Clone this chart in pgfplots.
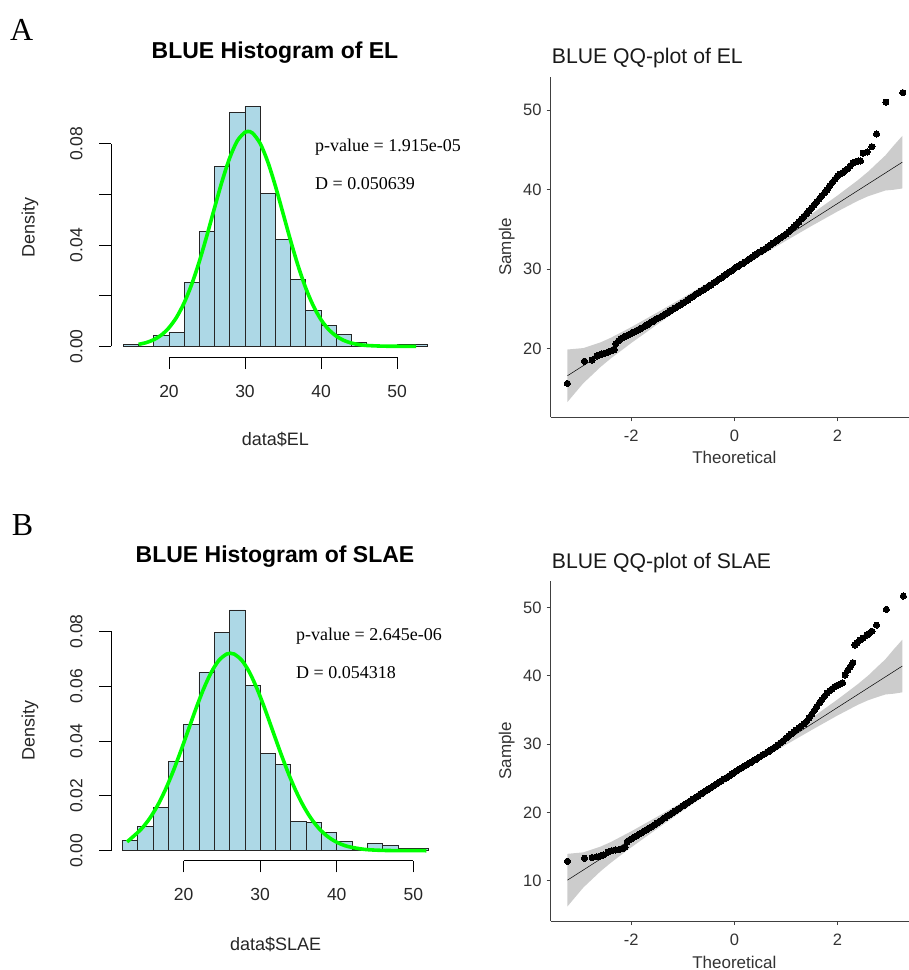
\documentclass[border=0pt]{standalone}
\usepackage{fontspec}
\setmainfont{Liberation Sans}
\newfontfamily\timesf{Liberation Serif}
\usepackage{pgfplots}
\pgfplotsset{compat=1.18}
\definecolor{lblue}{RGB}{173,216,230}
\definecolor{rgreen}{RGB}{0,255,0}
\definecolor{bandgray}{RGB}{204,204,204}

\pgfplotsset{
  histax/.style={scale only axis, anchor=south west, clip=false,
    axis x line*=bottom, axis y line*=left, axis line style={draw=none},
    scaled ticks=false,
    tick align=outside, major tick length=11.7pt,
    tick style={black, line width=0.8pt},
    minor tick num=0,
    xtick={20,30,40,50}, xticklabels={20,30,40,50},
    ytick={0,0.02,0.04,0.06,0.08},
    ticklabel style={font=\fontsize{17.5}{19}\selectfont, text=black!85, inner sep=0pt},
    xticklabel style={anchor=center, yshift=-22.3pt},
    yticklabel style={anchor=center, xshift=-23pt, rotate=90},
  },
  qqax/.style={scale only axis, anchor=south west,
    axis x line*=bottom, axis y line*=left,
    axis line style={black!75, line width=1pt},
    tick style={black!75, line width=0.8pt},
    tick align=outside, major tick length=4pt,
    xmin=-3.565, xmax=3.39,
    xtick={-2,0,2}, xticklabels={-2,0,2},
    ticklabel style={font=\fontsize{16.5}{18}\selectfont, text=black!80, inner sep=0pt},
    xticklabel style={anchor=center, yshift=-14.4pt},
    yticklabel style={anchor=east, xshift=-5pt},
  },
  qqpts/.style={only marks, mark=*, mark size=3.1pt, mark options={fill=black, draw=black, line width=0pt}},
}

\begin{document}
\begin{tikzpicture}
\path[use as bounding box] (0pt,0pt) rectangle (909pt,-970pt);

% ---------------- Panel A histogram ----------------
\begin{axis}[histax, at={(111pt,-357.3pt)}, width=328.8pt, height=260.4pt,
  xmin=12.37, xmax=55.63, ymin=-0.00434, ymax=0.0985,
  yticklabels={0.00,,0.04,,0.08}]
\addplot[ybar interval, fill=lblue, draw=black!85, line width=0.8pt] table {
x y
14 0.0009
16 0
18 0.0043
20 0.0056
22 0.0253
24 0.0455
26 0.0709
28 0.0924
30 0.0947
32 0.0603
34 0.0422
36 0.0263
38 0.0142
40 0.0082
42 0.0046
44 0.0016
46 0.0005
48 0
50 0.0008
52 0.0008
54 0.0008
};
\addplot[rgreen, line width=3.6pt, smooth] table {
x y
16 0.00078
17 0.00146
18 0.00262
19 0.00447
20 0.00734
21 0.01149
22 0.01719
23 0.02459
24 0.03359
25 0.04387
26 0.05477
27 0.06534
28 0.07451
29 0.0812
30 0.08457
30.4 0.08488
31 0.08419
32 0.0801
33 0.07284
34 0.0633
35 0.05257
36 0.04174
37 0.03167
38 0.02296
39 0.01591
40 0.01053
41 0.00667
42 0.00404
43 0.00233
44 0.00129
45 0.00068
46 0.00034
48 0.00008
50 0.00001
52.5 0
};
\draw[black, line width=0.8pt] (axis cs:20,-0.00434) -- (axis cs:50,-0.00434);
\draw[black, line width=0.8pt] (axis cs:12.37,0) -- (axis cs:12.37,0.08);
\end{axis}

% ---------------- Panel B histogram ----------------
\begin{axis}[histax, at={(111pt,-860.7pt)}, width=329.8pt, height=260.4pt,
  xmin=10.5, xmax=53.6, ymin=-0.00365, ymax=0.0913,
  yticklabels={0.00,0.02,0.04,0.06,0.08}]
\addplot[ybar interval, fill=lblue, draw=black!85, line width=0.8pt] table {
x y
12 0.0036
14 0.0090
16 0.0159
18 0.0327
20 0.0461
22 0.0650
24 0.0796
26 0.0878
28 0.0602
30 0.0354
32 0.0315
34 0.0106
36 0.0102
38 0.0067
40 0.0035
42 0.0005
44 0.0027
46 0.0018
48 0.0009
50 0.0009
52 0.0009
};
\addplot[rgreen, line width=3.6pt, smooth] table {
x y
12.6 0.00323
13.6 0.00565
14.6 0.00835
15.6 0.01195
16.6 0.01655
17.6 0.02219
18.6 0.02879
19.6 0.03618
20.6 0.04398
21.6 0.05178
22.6 0.05897
23.6 0.06503
24.6 0.06941
25.6 0.0717
26.1 0.0720
26.6 0.0717
27.6 0.06941
28.6 0.06503
29.6 0.05897
30.6 0.05178
31.6 0.04398
32.6 0.03618
33.6 0.02879
34.6 0.02219
35.6 0.01655
36.6 0.01195
37.6 0.00835
38.6 0.00565
39.6 0.0037
40.6 0.00234
41.6 0.00144
43.6 0.00049
45.6 0.00015
47.6 0.00004
51.7 0
};
\draw[black, line width=0.8pt] (axis cs:20,-0.00365) -- (axis cs:50,-0.00365);
\draw[black, line width=0.8pt] (axis cs:10.5,0) -- (axis cs:10.5,0.08);
\end{axis}

% ---------------- Panel A QQ ----------------
\begin{axis}[qqax, at={(550.7pt,-417.3pt)}, width=358.3pt, height=340.6pt,
  ymin=11.4, ymax=54.2, ytick={20,30,40,50}, yticklabels={20,30,40,50}]
\addplot[fill=bandgray, draw=none] coordinates {
(-3.24,19.92) (-3.10,20.0) (-2.93,20.1) (-2.75,20.49) (-2.60,20.81) (-2.40,21.39)
(-2.20,22.06) (-2.00,22.74) (-1.50,24.56) (-1.00,26.42) (-0.50,28.36) (0,30.38)
(0.5,32.49) (1.0,34.68) (1.5,36.95) (2.0,39.26) (2.2,40.24) (2.4,41.21) (2.6,42.29)
(2.75,43.21) (2.93,44.30) (3.10,45.60) (3.26,46.76)
(3.26,40.16) (3.10,40.0) (2.93,39.90) (2.75,39.51) (2.6,39.19) (2.4,38.61) (2.2,37.94)
(2.0,37.26) (1.5,35.45) (1.0,33.58) (0.5,31.65) (0,29.62) (-0.50,27.52) (-1.00,25.32)
(-1.50,23.06) (-2.00,20.74) (-2.20,19.76) (-2.40,18.79) (-2.60,17.71) (-2.75,16.79)
(-2.93,15.7) (-3.10,14.4) (-3.24,13.32)
} -- cycle;
\addplot[black, line width=0.5pt] coordinates {(-3.24,16.62) (3.26,43.46)};
\addplot[qqpts] table {
x y
-3.24 15.65
-2.91 18.45
-2.76 18.6
-2.67 19.1
-2.62 19.25
-2.57 19.35
-2.52 19.45
-2.47 19.55
-2.42 19.7
-2.37 19.8
-2.33 19.9
-2.30 20.65
-2.25 21.0
-2.20 21.3
-2.15 21.45
-2.10 21.6
-2.05 21.8
-2.00 21.95
-1.95 22.1
-1.90 22.3
-1.85 22.45
-1.80 22.6
-1.75 22.8
-1.70 23.0
-1.65 23.2
-1.60 23.4
-1.55 23.6
-1.50 23.8
-1.45 23.95
-1.40 24.15
-1.35 24.35
-1.30 24.55
-1.25 24.75
-1.20 24.95
-1.15 25.15
-1.10 25.35
-1.05 25.55
-1.00 25.75
-0.95 25.95
-0.90 26.15
-0.85 26.4
-0.80 26.6
-0.75 26.85
-0.70 27.05
-0.65 27.25
-0.60 27.45
-0.55 27.65
-0.50 27.85
-0.45 28.05
-0.40 28.3
-0.35 28.5
-0.30 28.75
-0.25 28.95
-0.20 29.2
-0.15 29.4
-0.10 29.65
-0.05 29.85
0.00 30.1
0.05 30.3
0.10 30.5
0.15 30.7
0.20 30.9
0.25 31.1
0.30 31.35
0.35 31.55
0.40 31.8
0.45 32.0
0.50 32.2
0.55 32.4
0.60 32.6
0.65 32.8
0.70 33.05
0.75 33.3
0.80 33.5
0.85 33.75
0.90 33.95
0.95 34.2
1.00 34.4
1.05 34.7
1.10 35.0
1.15 35.3
1.20 35.6
1.25 35.95
1.30 36.3
1.35 36.65
1.40 37.0
1.45 37.35
1.50 37.75
1.55 38.1
1.60 38.5
1.65 38.85
1.70 39.25
1.75 39.6
1.80 40.0
1.85 40.5
1.90 40.9
1.95 41.3
2.00 41.7
2.05 41.95
2.10 42.15
2.15 42.4
2.20 42.6
2.25 43.0
2.30 43.35
2.35 43.5
2.40 43.6
2.45 43.6
2.50 44.6
2.58 44.75
2.67 45.4
2.76 47.0
2.94 51.0
3.27 52.2
};
\end{axis}

% ---------------- Panel B QQ ----------------
\begin{axis}[qqax, at={(550.7pt,-921pt)}, width=358.3pt, height=340.3pt,
  ymin=4.1, ymax=53.9, ytick={10,20,30,40,50}, yticklabels={10,20,30,40,50}]
\addplot[fill=bandgray, draw=none] coordinates {
(-3.24,13.93) (-3.10,14.03) (-2.93,14.15) (-2.75,14.61) (-2.60,14.98) (-2.40,15.65)
(-2.20,16.44) (-2.00,17.23) (-1.50,19.35) (-1.00,21.52) (-0.50,23.78) (0,26.14)
(0.5,28.60) (1.0,31.16) (1.5,33.81) (2.0,36.51) (2.2,37.64) (2.4,38.79) (2.6,40.04)
(2.75,41.12) (2.93,42.39) (3.10,43.91) (3.26,45.26)
(3.26,37.56) (3.10,37.37) (2.93,37.25) (2.75,36.80) (2.6,36.42) (2.4,35.75) (2.2,34.96)
(2.0,34.17) (1.5,32.05) (1.0,29.88) (0.5,27.62) (0,25.26) (-0.50,22.80) (-1.00,20.24)
(-1.50,17.59) (-2.00,14.89) (-2.20,13.76) (-2.40,12.61) (-2.60,11.36) (-2.75,10.29)
(-2.93,9.01) (-3.10,7.49) (-3.24,6.23)
} -- cycle;
\addplot[black, line width=0.5pt] coordinates {(-3.24,10.08) (3.26,41.41)};
\addplot[qqpts] table {
x y
-3.24 12.85
-2.91 13.3
-2.76 13.4
-2.67 13.5
-2.60 13.6
-2.54 13.75
-2.45 14.2
-2.38 14.4
-2.30 14.5
-2.22 14.6
-2.15 14.75
-2.12 14.9
-2.08 15.7
-2.05 15.9
-2.00 16.1
-1.95 16.35
-1.90 16.55
-1.85 16.8
-1.80 17.0
-1.75 17.25
-1.70 17.5
-1.65 17.7
-1.60 17.95
-1.55 18.2
-1.50 18.45
-1.45 18.7
-1.40 18.95
-1.35 19.2
-1.30 19.45
-1.25 19.7
-1.20 19.95
-1.15 20.2
-1.10 20.45
-1.05 20.7
-1.00 20.95
-0.95 21.2
-0.90 21.45
-0.85 21.7
-0.80 21.95
-0.75 22.2
-0.70 22.45
-0.65 22.7
-0.60 22.95
-0.55 23.2
-0.50 23.4
-0.45 23.65
-0.40 23.9
-0.35 24.15
-0.30 24.4
-0.25 24.65
-0.20 24.9
-0.15 25.1
-0.10 25.35
-0.05 25.6
0.00 25.85
0.05 26.1
0.10 26.35
0.15 26.55
0.20 26.8
0.25 27.0
0.30 27.25
0.35 27.45
0.40 27.7
0.45 27.9
0.50 28.15
0.55 28.4
0.60 28.6
0.65 28.85
0.70 29.1
0.75 29.35
0.80 29.6
0.85 29.9
0.90 30.2
0.95 30.5
1.00 30.85
1.05 31.15
1.10 31.45
1.15 31.75
1.20 32.05
1.25 32.35
1.30 32.65
1.35 32.95
1.40 33.3
1.45 33.8
1.50 34.35
1.55 34.9
1.60 35.5
1.65 36.0
1.70 36.5
1.75 37.0
1.80 37.45
1.85 37.8
1.90 38.1
1.95 38.4
2.00 38.6
2.05 38.75
2.10 38.95
2.15 40.1
2.20 40.8
2.25 41.3
2.30 41.9
2.34 44.5
2.38 44.8
2.44 45.2
2.50 45.5
2.57 45.95
2.62 46.2
2.67 46.5
2.76 47.4
2.95 49.7
3.28 51.65
};
\end{axis}

% ---------------- Text ----------------
\begin{scope}[every node/.style={inner sep=0pt}]
\node[anchor=base west, font=\timesf\fontsize{32}{34}\selectfont] at (10pt,-40pt) {A};
\node[anchor=base west, font=\timesf\fontsize{32}{34}\selectfont] at (11.7pt,-535pt) {B};

\node[anchor=base, font=\bfseries\fontsize{23}{26}\selectfont] at (275pt,-58.3pt) {BLUE Histogram of EL};
\node[anchor=base, font=\bfseries\fontsize{23}{26}\selectfont] at (275pt,-562.7pt) {BLUE Histogram of SLAE};

\node[rotate=90, font=\fontsize{18}{20}\selectfont, text=black!85] at (30pt,-227pt) {Density};
\node[rotate=90, font=\fontsize{18}{20}\selectfont, text=black!85] at (30pt,-730.5pt) {Density};
\node[anchor=base, font=\fontsize{18}{20}\selectfont, text=black!85] at (275.4pt,-445pt) {data\$EL};
\node[anchor=base, font=\fontsize{18}{20}\selectfont, text=black!85] at (275.7pt,-950pt) {data\$SLAE};

\node[anchor=base west, font=\timesf\fontsize{18}{20}\selectfont] at (315pt,-151.7pt) {p-value = 1.915e-05};
\node[anchor=base west, font=\timesf\fontsize{18}{20}\selectfont] at (315pt,-189.3pt) {D = 0.050639};
\node[anchor=base west, font=\timesf\fontsize{18}{20}\selectfont] at (296pt,-640pt) {p-value = 2.645e-06};
\node[anchor=base west, font=\timesf\fontsize{18}{20}\selectfont] at (296pt,-678.3pt) {D = 0.054318};

\node[anchor=base west, font=\fontsize{21.2}{24}\selectfont, text=black!90] at (551.7pt,-63.3pt) {BLUE QQ-plot of EL};
\node[anchor=base west, font=\fontsize{21.2}{24}\selectfont, text=black!90] at (551.7pt,-568.3pt) {BLUE QQ-plot of SLAE};
\node[rotate=90, font=\fontsize{17}{19}\selectfont, text=black!80] at (506.7pt,-247pt) {Sample};
\node[rotate=90, font=\fontsize{17}{19}\selectfont, text=black!80] at (506.7pt,-750.9pt) {Sample};
\node[anchor=base, font=\fontsize{17}{19}\selectfont, text=black!80] at (734.3pt,-463.3pt) {Theoretical};
\node[anchor=base, font=\fontsize{17}{19}\selectfont, text=black!80] at (734.3pt,-968.3pt) {Theoretical};
\end{scope}
\end{tikzpicture}
\end{document}
